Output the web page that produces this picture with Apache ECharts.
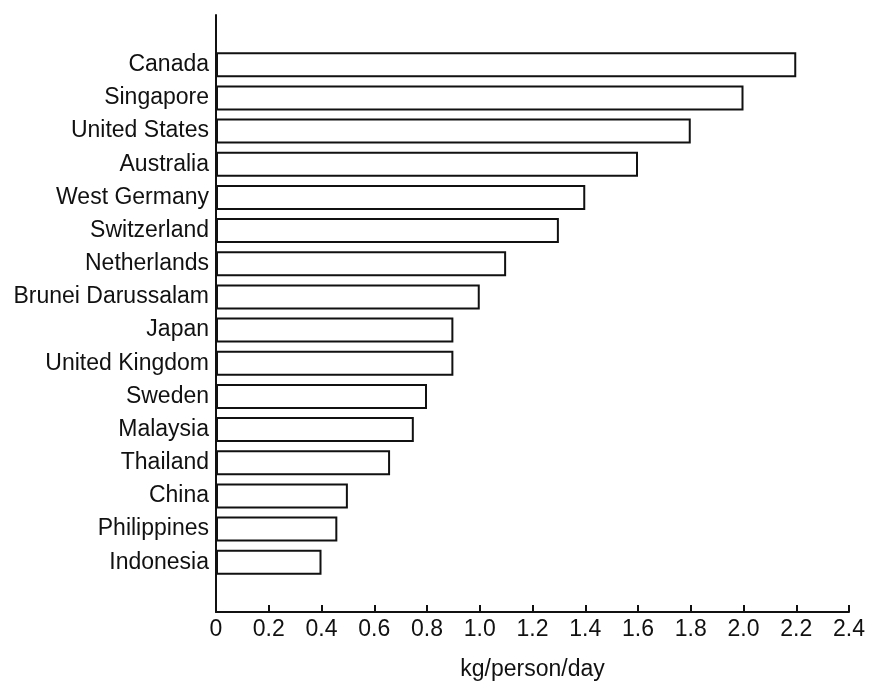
<!DOCTYPE html>
<html>
<head>
<meta charset="utf-8">
<script src="https://cdn.jsdelivr.net/npm/echarts@6/dist/echarts.min.js"></script>
<style>
html,body{margin:0;padding:0;background:#fff;}
#c{width:871px;height:686px;}
</style>
</head>
<body>
<div id="c"></div>
<script>
const countries = ['Canada','Singapore','United States','Australia','West Germany','Switzerland','Netherlands','Brunei Darussalam','Japan','United Kingdom','Sweden','Malaysia','Thailand','China','Philippines','Indonesia'];
const wastePerDay = [2.2, 2.0, 1.8, 1.6, 1.4, 1.3, 1.1, 1.0, 0.9, 0.9, 0.8, 0.75, 0.66, 0.5, 0.46, 0.4];
const xTickLabels = ['0','0.2','0.4','0.6','0.8','1.0','1.2','1.4','1.6','1.8','2.0','2.2','2.4'];
const xAxisTitle = 'kg/person/day';

const FONT = 'Liberation Sans';
const chart = echarts.init(document.getElementById('c'), null, {renderer:'canvas'});
chart.setOption({
  animation: false,
  backgroundColor: '#fff',
  grid: {left: 216, right: 22, top: 15, bottom: 67, containLabel: false},
  xAxis: {
    type: 'value', min: 0, max: 2.4, interval: 0.2,
    name: xAxisTitle, nameLocation: 'middle', nameGap: 46,
    nameTextStyle: {fontFamily: FONT, fontSize: 23, color: '#111'},
    axisLine: {show: true, lineStyle: {color: '#111', width: 2}},
    axisTick: {show: true, inside: true, length: 7, lineStyle: {color: '#111', width: 2}},
    axisLabel: {
      margin: 6, fontFamily: FONT, fontSize: 23, color: '#111',
      formatter: function (v) { return xTickLabels[Math.round(v / 0.2)]; }
    },
    splitLine: {show: false}
  },
  yAxis: {
    type: 'category', data: countries, inverse: true, min: -1, max: 16,
    axisLine: {show: true, onZero: false, lineStyle: {color: '#111', width: 2}},
    axisTick: {show: false},
    axisLabel: {margin: 7, fontFamily: FONT, fontSize: 23, color: '#111', interval: 0},
    splitLine: {show: false}
  },
  series: [{
    type: 'bar', data: wastePerDay, barWidth: 25,
    itemStyle: {color: '#fff', borderColor: '#111', borderWidth: 2}
  }]
});
</script>
</body>
</html>
